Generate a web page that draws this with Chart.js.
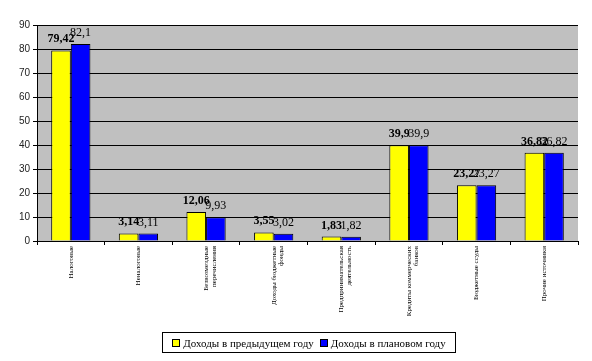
<!DOCTYPE html>
<html lang="ru">
<head>
<meta charset="utf-8">
<title>Доходы</title>
<script src="https://cdn.jsdelivr.net/npm/chart.js@4/dist/chart.umd.min.js"></script>
<style>
    body { margin: 0; background: #fff; }
    #wrap { position: relative; width: 592px; height: 361px; }
    #legend {
        position: absolute; left: 162px; top: 332px; width: 292px; height: 19px;
        border: 1px solid #000; display: flex; align-items: center; justify-content: center;
        font: 11px "Liberation Serif", "Times New Roman", serif; color: #000; white-space: nowrap;
    }
    #legend span.box { display: inline-block; width: 6px; height: 6px; border: 1px solid #000; margin: 0 3px 0 0; }
    #legend span.item { margin: 0 3px; display: flex; align-items: center; }
</style>
</head>
<body>
<div id="wrap">
    <canvas id="grafico" width="592" height="361"></canvas>
    <div id="legend"></div>
</div>
<script>
// Категории доходов
const categorias = [
    'Налоговые',
    'Неналоговые',
    ['Безвозмездные', 'перечисления'],
    ['Доходы бюджетные', 'фонды'],
    ['Предпринимательская', 'деятельность'],
    ['Кредиты коммерческих', 'банков'],
    'Бюджетные ссуды',
    'Прочие источники'
];
const seriesNomes = ['Доходы в предыдущем году', 'Доходы в плановом году'];
const doxodyPredyd = [79.42, 3.14, 12.06, 3.55, 1.83, 39.9, 23.27, 36.82];
const doxodyPlan = [82.1, 3.11, 9.93, 3.02, 1.82, 39.9, 23.27, 36.82];
const yTicks = [0, 10, 20, 30, 40, 50, 60, 70, 80, 90];

const cores = ['#FFFF00', '#0000FF'];

// Серый фон области построения
const fundoPlugin = {
    id: 'fundo',
    beforeDraw(chart) {
        const a = chart.chartArea;
        const ctx = chart.ctx;
        ctx.save();
        ctx.fillStyle = '#C0C0C0';
        ctx.fillRect(a.left, a.top, a.right - a.left, a.bottom - a.top);
        ctx.restore();
    }
};

// Подписи значений над столбцами
const rotulosPlugin = {
    id: 'rotulos',
    afterDatasetsDraw(chart) {
        const ctx = chart.ctx;
        ctx.save();
        ctx.fillStyle = '#000';
        ctx.textAlign = 'center';
        ctx.textBaseline = 'alphabetic';
        chart.data.datasets.forEach((ds, i) => {
            ctx.font = (i === 0 ? 'bold ' : '') + '12px "Liberation Serif", serif';
            chart.getDatasetMeta(i).data.forEach((bar, j) => {
                ctx.fillText(String(ds.data[j]).replace('.', ','), bar.x, bar.y - 8);
            });
        });
        ctx.restore();
    }
};

const ctx = document.getElementById('grafico').getContext('2d');
new Chart(ctx, {
    type: 'bar',
    data: {
        labels: categorias,
        datasets: [doxodyPredyd, doxodyPlan].map((valores, i) => ({
            label: seriesNomes[i],
            data: valores,
            backgroundColor: cores[i],
            borderColor: '#000',
            borderWidth: 1,
            barPercentage: 1,
            categoryPercentage: 0.58
        }))
    },
    options: {
        responsive: false,
        animation: false,
        layout: { padding: { left: 0, right: 14, top: 25, bottom: 40 } },
        plugins: { legend: { display: false }, tooltip: { enabled: false } },
        scales: {
            x: {
                grid: { drawOnChartArea: false, color: '#000', tickLength: 4 },
                border: { color: '#000' },
                ticks: {
                    minRotation: 90, maxRotation: 90, autoSkip: false, padding: 1,
                    color: '#000',
                    font: { family: '"Liberation Serif", serif', size: 7, lineHeight: 1.1 }
                },
                afterFit(scale) { scale.height = 80; }
            },
            y: {
                min: 0, max: 90,
                afterBuildTicks(scale) { scale.ticks = yTicks.map(v => ({ value: v })); },
                grid: { color: '#000', tickLength: 4 },
                border: { color: '#000' },
                ticks: {
                    padding: 3, color: '#222',
                    font: { family: '"Liberation Sans", Arial, sans-serif', size: 10 }
                },
                afterFit(scale) { scale.width = 37; }
            }
        }
    },
    plugins: [fundoPlugin, rotulosPlugin]
});

// Легенда
const legend = document.getElementById('legend');
seriesNomes.forEach((nome, i) => {
    const item = document.createElement('span');
    item.className = 'item';
    item.innerHTML = `<span class="box" style="background:${cores[i]}"></span>${nome}`;
    legend.appendChild(item);
});
</script>
</body>
</html>
